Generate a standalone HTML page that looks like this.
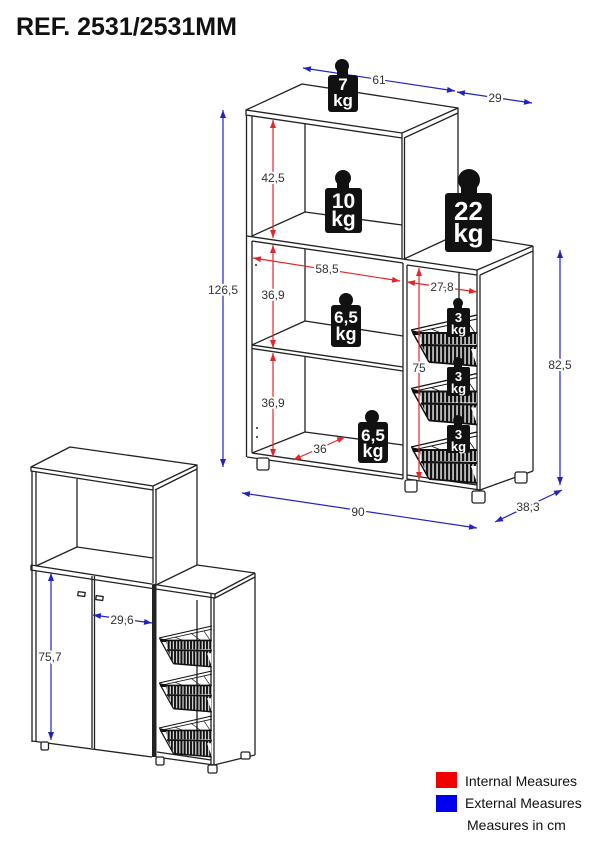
<!DOCTYPE html>
<html><head><meta charset="utf-8"><style>html,body{margin:0;padding:0;background:#fff}svg{display:block;font-family:"Liberation Sans",Arial,sans-serif}</style></head>
<body>
<svg width="600" height="849" viewBox="0 0 600 849" xmlns="http://www.w3.org/2000/svg">
<defs>
<marker id="mr" markerUnits="userSpaceOnUse" markerWidth="8" markerHeight="6" refX="8" refY="3" orient="auto-start-reverse"><path d="M0,0 L8,3 L0,6 Z" fill="#e3262b"/></marker>
<marker id="mb" markerUnits="userSpaceOnUse" markerWidth="8" markerHeight="6" refX="8" refY="3" orient="auto-start-reverse"><path d="M0,0 L8,3 L0,6 Z" fill="#2323c4"/></marker>
<pattern id="slit" width="4" height="4" patternUnits="userSpaceOnUse"><rect width="4" height="4" fill="#111"/><rect x="1.4" width="1.3" height="4" fill="#fff"/></pattern>
<g id="bk">
<polygon points="8,3 66,3 66,14 11,14" fill="url(#slit)"/>
<polygon points="11,16 66,17 66,36 18,32" fill="url(#slit)"/>
<polygon points="0,0 9,2 9,5 2,5" fill="#111"/>
<polygon points="60,19 65,19 65,33" fill="#fff"/>
<g stroke="#111" fill="none">
<line x1="0" y1="0" x2="66" y2="-15" stroke-width="1.3"/>
<line x1="2" y1="3" x2="66" y2="-11" stroke-width="1"/>
<line x1="20" y1="-1" x2="30" y2="3" stroke-width="0.8"/>
<line x1="40" y1="-6" x2="52" y2="3" stroke-width="0.8"/>
<line x1="56" y1="-9" x2="64" y2="3" stroke-width="0.8"/>
<line x1="2" y1="3" x2="18" y2="32" stroke-width="1.5"/>
<line x1="8" y1="3" x2="66" y2="3" stroke-width="2"/>
<line x1="10" y1="15" x2="66" y2="16" stroke-width="2.2"/>
<line x1="18" y1="32" x2="66" y2="36" stroke-width="1.8"/>
</g>
</g>
</defs>

<text x="16" y="35" font-size="25" font-weight="bold" fill="#111">REF. 2531/2531MM</text>

<!-- MAIN FURNITURE -->
<g stroke="#222" stroke-width="1.3" fill="none" stroke-linejoin="round">
<path d="M246,110 L302,84 L458,108 L402,133 Z"/>
<path d="M246,110 V115 L402,138 V133"/>
<path d="M404,138 L458,113"/>
<path d="M458,108 V234"/>
<path d="M246.5,115 V457"/>
<path d="M252,116 V236"/>
<path d="M402,138 V259"/>
<path d="M404.5,138 V259"/>
<path d="M404,259 L458,234"/>
<path d="M305,124 V212"/>
<path d="M305,212 L402,225"/>
<path d="M252,236 L305,212"/>
<path d="M247,236 L477,270"/>
<path d="M458,234 L533,246"/>
<path d="M477,270 L533,246"/>
<path d="M252,241 L403,263"/>
<path d="M407,265 L477,275"/>
<path d="M252,241 V453"/>
<path d="M247,457 L403,479"/>
<path d="M252,453 L403,475"/>
<path d="M407,479 L480,490"/>
<path d="M407,475 L477,485"/>
<path d="M403,263 V479"/>
<path d="M407,265 V479"/>
<path d="M477,270 V490"/>
<path d="M480,275 V490"/>
<path d="M480,275 L533,251"/>
<path d="M533,246 V471"/>
<path d="M480,490 L533,471"/>
<path d="M305,249 V321"/>
<path d="M305,356 V432"/>
<path d="M305,432 L403,445"/>
<path d="M252,453 L305,432"/>
<path d="M252,345 L403,367"/>
<path d="M252,348.5 L403,371"/>
<path d="M305,321 L403,336"/>
<path d="M252,345 L305,321"/>
<path d="M459,273 V476"/>
<rect x="257" y="458" width="12" height="12" rx="2" fill="#fff"/>
<rect x="405" y="480" width="12" height="12" rx="2" fill="#fff"/>
<rect x="472" y="491" width="13" height="12" rx="2" fill="#fff"/>
<rect x="515" y="472" width="12" height="11" rx="2" fill="#fff"/>
</g>
<g fill="#222"><circle cx="256" cy="265" r="1"/><circle cx="257" cy="428" r="1"/><circle cx="257" cy="437" r="1"/></g>

<!-- main baskets -->
<use href="#bk" transform="translate(411,330)"/>
<use href="#bk" transform="translate(411,388.5)"/>
<use href="#bk" transform="translate(411,447)"/>

<!-- SMALL CABINET -->
<g stroke="#222" stroke-width="1.3" fill="none" stroke-linejoin="round">
<path d="M31,467 L70,447 L197,465 L153,486 Z"/>
<path d="M31,467 V471 L153,490 V486"/>
<path d="M155,490 L197,469"/>
<path d="M197,465 V565"/>
<path d="M32,471 V742"/>
<path d="M36,472 V565"/>
<path d="M153,490 V583"/>
<path d="M156,490 V584"/>
<path d="M77,479 V547"/>
<path d="M77,547 L153,558"/>
<path d="M36,566 L77,547"/>
<path d="M31,565 L215,594"/>
<path d="M197,565 L255,573"/>
<path d="M215,594 L255,573"/>
<path d="M31,565 V570 L215,598 V594"/>
<path d="M215,598 L255,577"/>
<path d="M156,585 L197,565"/>
<path d="M36,571 V742"/>
<path d="M92,576 V748"/>
<path d="M94.5,576 V749"/>
<path d="M32,741 L152,757"/>
<path d="M211,594 V765"/>
<path d="M214,598 V765"/>
<path d="M255,573 V755"/>
<path d="M214,765 L255,755"/>
<path d="M156,757 L214,765"/>
<path d="M157,752 L211,760"/>
<path d="M197,600 V748"/>
<rect x="41" y="742" width="7.5" height="8" rx="1.5" fill="#fff"/>
<rect x="156" y="757" width="8" height="8" rx="1.5" fill="#fff"/>
<rect x="208" y="765" width="9" height="8" rx="1.5" fill="#fff"/>
<rect x="241" y="752" width="9" height="7" rx="1.5" fill="#fff"/>
<rect x="78" y="592" width="7" height="4" transform="rotate(8 81 594)"/>
<rect x="96" y="596" width="7" height="4" transform="rotate(8 99 598)"/>
</g>
<rect x="152" y="585" width="4.5" height="172" fill="#222"/>
<use href="#bk" transform="translate(159,638) scale(0.8)"/>
<use href="#bk" transform="translate(159,683) scale(0.8)"/>
<use href="#bk" transform="translate(159,728) scale(0.8)"/>

<!-- DIMENSIONS RED -->
<g stroke="#e3262b" stroke-width="1.2" marker-start="url(#mr)" marker-end="url(#mr)">
<line x1="273" y1="120" x2="273" y2="238"/>
<line x1="273" y1="245" x2="273" y2="348"/>
<line x1="273" y1="353" x2="273" y2="457"/>
<line x1="253" y1="258" x2="400" y2="281"/>
<line x1="407" y1="282" x2="477" y2="292"/>
<line x1="293" y1="460" x2="345" y2="437"/>
<line x1="419" y1="268" x2="419" y2="480"/>
</g>
<!-- DIMENSIONS BLUE -->
<g stroke="#2323c4" stroke-width="1.2" marker-start="url(#mb)" marker-end="url(#mb)">
<line x1="223" y1="110" x2="223" y2="467"/>
<line x1="560" y1="250" x2="560" y2="485"/>
<line x1="242" y1="493" x2="477" y2="528"/>
<line x1="495" y1="522" x2="562" y2="490"/>
<line x1="303" y1="68" x2="455" y2="91"/>
<line x1="457" y1="92" x2="532" y2="103"/>
<line x1="51" y1="573" x2="51" y2="740"/>
<line x1="93" y1="615" x2="152" y2="623"/>
</g>

<!-- WEIGHTS -->
<g fill="#111">
<circle cx="342" cy="66" r="7"/><rect x="337" y="66" width="11" height="10"/><rect x="328" y="75" width="30" height="37" rx="3"/>
<circle cx="343" cy="178" r="8"/><rect x="337" y="178" width="12" height="11"/><rect x="325" y="188" width="37" height="45" rx="3"/>
<circle cx="469" cy="180" r="11"/><rect x="461" y="180" width="16" height="14"/><rect x="445" y="193" width="47" height="59" rx="3"/>
<circle cx="346" cy="300" r="7"/><rect x="341" y="300" width="10" height="6"/><rect x="331" y="305" width="30" height="42" rx="3"/>
<circle cx="372" cy="417" r="7"/><rect x="367" y="417" width="10" height="6"/><rect x="358" y="422" width="30" height="41" rx="3"/>
<circle cx="458" cy="303" r="5"/><rect x="454" y="303" width="8" height="6"/><rect x="447" y="308" width="23" height="29" rx="2"/>
<circle cx="458" cy="362" r="5"/><rect x="454" y="362" width="8" height="6"/><rect x="447" y="367" width="23" height="29" rx="2"/>
<circle cx="458" cy="420" r="5"/><rect x="454" y="420" width="8" height="6"/><rect x="447" y="425" width="23" height="28" rx="2"/>
</g>
<g fill="#fff" font-weight="bold" text-anchor="middle">
<text x="343" y="90" font-size="17">7</text><text x="343" y="106" font-size="17">kg</text>
<text x="343.5" y="208" font-size="21">10</text><text x="343.5" y="226" font-size="21">kg</text>
<text x="468.5" y="220" font-size="26">22</text><text x="468.5" y="242" font-size="26">kg</text>
<text x="346" y="323" font-size="17">6,5</text><text x="346" y="340" font-size="18">kg</text>
<text x="373" y="441" font-size="17">6,5</text><text x="373" y="457" font-size="18">kg</text>
<text x="458.5" y="322" font-size="13">3</text><text x="458.5" y="334" font-size="13">kg</text>
<text x="458.5" y="381" font-size="13">3</text><text x="458.5" y="393" font-size="13">kg</text>
<text x="458.5" y="439" font-size="13">3</text><text x="458.5" y="451" font-size="13">kg</text>
</g>

<!-- DIMENSION LABELS -->
<g font-size="12" fill="#333" text-anchor="middle" stroke="#fff" stroke-width="4" paint-order="stroke" stroke-linejoin="round">
<text x="379" y="84">61</text>
<text x="495" y="102">29</text>
<text x="223" y="294">126,5</text>
<text x="273" y="182">42,5</text>
<text x="273" y="299">36,9</text>
<text x="273" y="407">36,9</text>
<text x="327" y="273">58,5</text>
<text x="442" y="291">27,8</text>
<text x="320" y="453">36</text>
<text x="419" y="372">75</text>
<text x="560" y="369">82,5</text>
<text x="358" y="516">90</text>
<text x="528" y="511">38,3</text>
<text x="50" y="661">75,7</text>
<text x="122" y="624">29,6</text>
</g>

<!-- LEGEND -->
<rect x="436" y="772" width="21" height="16" fill="#f20000"/>
<rect x="436" y="795" width="21" height="17" fill="#0000f0"/>
<g font-size="14" fill="#111">
<text x="465" y="786">Internal Measures</text>
<text x="465" y="808">External Measures</text>
<text x="467" y="830">Measures in cm</text>
</g>
</svg>
</body></html>
